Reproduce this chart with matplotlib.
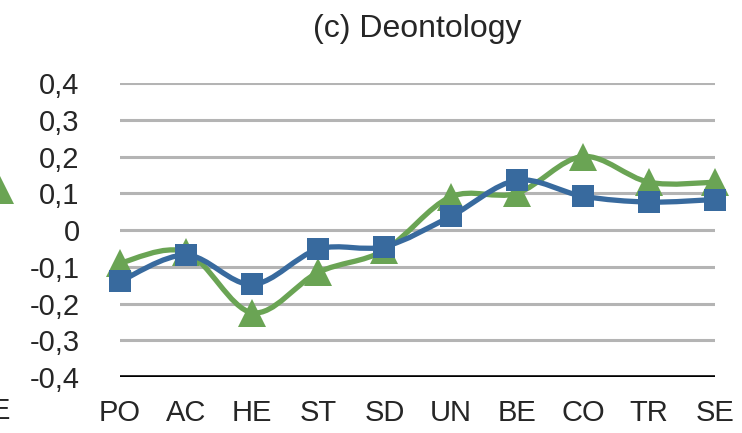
import matplotlib.pyplot as plt
import numpy as np
from matplotlib.path import Path
from matplotlib.patches import PathPatch
from matplotlib.lines import Line2D

categories = ["PO", "AC", "HE", "ST", "SD", "UN", "BE", "CO", "TR", "SE"]
green_vals = [-0.09, -0.06, -0.225, -0.115, -0.055, 0.09, 0.10, 0.20, 0.13, 0.13]
blue_vals = [-0.14, -0.068, -0.148, -0.052, -0.045, 0.037, 0.135, 0.092, 0.076, 0.083]
yticks = [-0.4, -0.3, -0.2, -0.1, 0.0, 0.1, 0.2, 0.3, 0.4]
ytick_labels = ["-0,4", "-0,3", "-0,2", "-0,1", "0", "0,1", "0,2", "0,3", "0,4"]

GREEN = "#6aa454"
BLUE = "#386a9e"
TEXT = "#262626"

plt.rcParams["font.family"] = ["Liberation Sans", "DejaVu Sans"]


def smooth_path(xs, ys):
    # Excel-style smoothed line: cubic Bezier through each point
    pts = np.column_stack([xs, ys])
    n = len(pts)
    verts = [pts[0]]
    codes = [Path.MOVETO]
    for i in range(n - 1):
        p0 = pts[max(i - 1, 0)]
        p1 = pts[i]
        p2 = pts[i + 1]
        p3 = pts[min(i + 2, n - 1)]
        c1 = p1 + (p2 - p0) / 6.0
        c2 = p2 - (p3 - p1) / 6.0
        verts += [c1, c2, p2]
        codes += [Path.CURVE4] * 3
    return Path(verts, codes)


fig = plt.figure(figsize=(7.42, 4.33), dpi=100)
ax = fig.add_axes([0.1617, 0.1293, 0.802, 0.679])

x = np.arange(len(categories))

for yv in yticks[1:]:
    ax.axhline(yv, color="#b4b4b4", lw=2.2, zorder=1)
ax.axhline(-0.4, color="black", lw=2.6, zorder=2)

for vals, color, marker, ms, z in [(green_vals, GREEN, "^", 20, 3),
                                    (blue_vals, BLUE, "s", 15.5, 5)]:
    patch = PathPatch(smooth_path(x, vals), facecolor="none", edgecolor=color,
                      lw=3.8, zorder=z, capstyle="round", joinstyle="round",
                      clip_on=False)
    ax.add_patch(patch)
    ax.plot(x, vals, linestyle="none", marker=marker, markersize=ms,
            color=color, markeredgewidth=0, zorder=z + 0.5, clip_on=False)

ax.set_xlim(0, 9)
ax.set_ylim(-0.4, 0.4)
ax.set_yticks(yticks)
ax.set_yticklabels(ytick_labels)
ax.set_xticks(x)
ax.set_xticklabels(categories)
ax.tick_params(axis="y", length=0, pad=29, labelsize=21, labelcolor=TEXT)
ax.tick_params(axis="x", length=0, pad=16, labelsize=21, labelcolor=TEXT)
for s in ax.spines.values():
    s.set_visible(False)

ax.set_title("(c) Deontology", fontsize=23, color=TEXT, pad=33)

# fragments of the neighbouring panel at the left edge
fig.add_artist(Line2D([0.0], [1 - 190 / 433], marker="^", markersize=20,
                      color=GREEN, markeredgewidth=0, transform=fig.transFigure))
fig.text(-0.012, 1 - 411 / 433, "E", fontsize=21, color=TEXT,
         ha="left", va="center")

fig.savefig("out.png", dpi=100)
